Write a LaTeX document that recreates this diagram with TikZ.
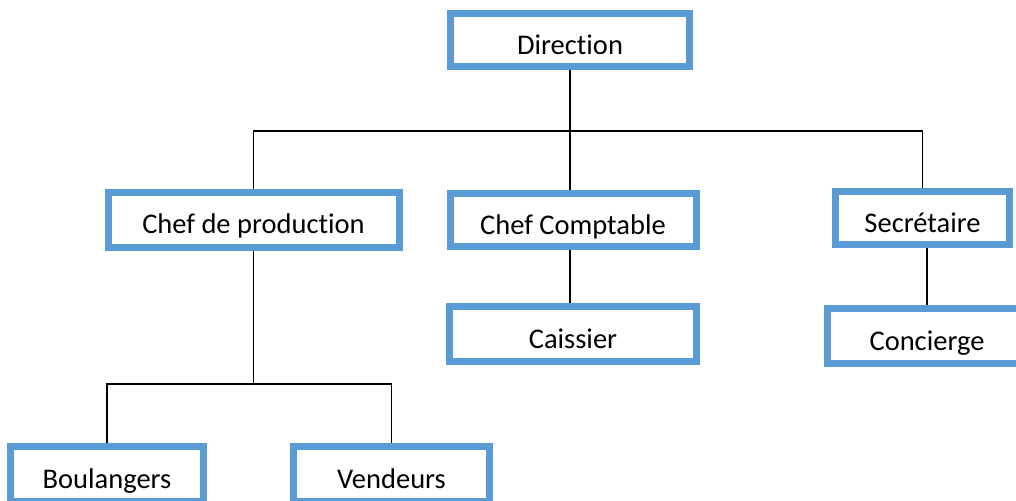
\documentclass[tikz,border=0pt]{standalone}
\usepackage{fontspec}
\setmainfont{Carlito}[Ligatures=NoCommon]
\usepackage{tikz}
\definecolor{boxcolor}{RGB}{91, 155, 213}
\definecolor{linkcolor}{RGB}{0, 0, 0}
\tikzset{
postbox/.style={
  draw=boxcolor,
  line width=7pt,
  fill=white,
  inner sep=0pt,
  text height=28.5pt,
  text depth=0pt,
  font=\fontsize{28.5}{34}\selectfont
},
link/.style={
  draw=linkcolor,
  line width=1.5pt
}
}

\begin{document}
\begin{tikzpicture}[x=1pt, y=-1pt]
  \useasboundingbox (0,0) rectangle (1016,500);
  % boxes
  \node[postbox, minimum width=239pt, minimum height=53pt] (direction) at (570,40) {Direction};
  \node[postbox, minimum width=291pt, minimum height=55pt] (chefprod) at (253.5,219.5) {Chef de production};
  \node[postbox, minimum width=246pt, minimum height=53pt] (chefcompta) at (573,220) {Chef Comptable};
  \node[postbox, minimum width=174pt, minimum height=53pt] (secretaire) at (922.5,218) {Secrétaire};
  \node[postbox, minimum width=247pt, minimum height=55pt] (caissier) at (573,334) {Caissier};
  \node[postbox, minimum width=199pt, minimum height=55pt] (concierge) at (927,336) {Concierge};
  \node[postbox, minimum width=193pt, minimum height=55pt] (boulangers) at (107,474) {Boulangers};
  \node[postbox, minimum width=196pt, minimum height=55pt] (vendeurs) at (391.5,474) {Vendeurs};
  % rails
  \coordinate (toprail) at (0,131);
  \coordinate (prodrail) at (0,384);
  % links
  \draw[link] (direction.south) -- (direction.south |- chefcompta.north);
  \draw[link] (chefprod.north) -- (chefprod.north |- toprail) -- (secretaire.north |- toprail) -- (secretaire.north);
  \draw[link] (chefcompta.south -| direction.south) -- (caissier.north -| direction.south);
  \draw[link] (concierge.north |- secretaire.south) -- (concierge.north);
  \draw[link] (chefprod.south) -- (chefprod.south |- prodrail);
  \draw[link] (boulangers.north) -- (boulangers.north |- prodrail) -- (vendeurs.north |- prodrail) -- (vendeurs.north);
\end{tikzpicture}
\end{document}
